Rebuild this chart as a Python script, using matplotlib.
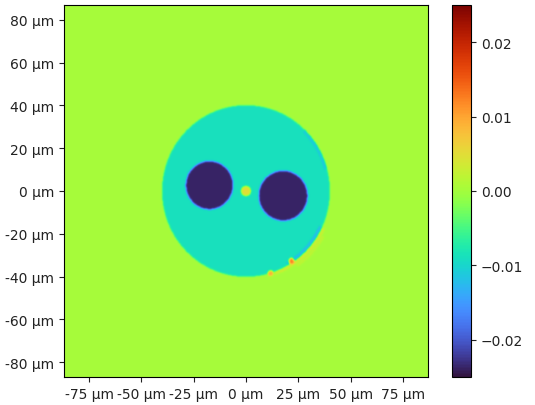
import numpy as np
import matplotlib
matplotlib.use("Agg")
import matplotlib.pyplot as plt
from matplotlib.ticker import FuncFormatter

# ---- data ----
extent_um = 87.0
background_value = 0.0003
cladding_center = (0.0, 0.0)
cladding_radius = 40.2
cladding_value = -0.0088
hole_x = [-17.5, 17.8]
hole_y = [2.7, -2.2]
hole_r = [11.3, 11.7]
hole_value = -0.0238
core_center = (0.0, 0.0)
core_radius = 2.3
core_value = 0.0048
# edge artefacts: inner radius, outer radius, start angle, end angle (deg), value
arc_r0 = [38.6, 40.3, 42.0, 38.8]
arc_r1 = [40.2, 41.6, 43.2, 40.2]
arc_a0 = [-60, -70, -55, 15]
arc_a1 = [-25, -25, -30, 45]
arc_value = [-0.0125, 0.0035, 0.0022, -0.0115]
spot_x = [21.8, 11.8]
spot_y = [-32.9, -38.6]
spot_r = [1.4, 1.3]
spot_value = [0.012, 0.009]
vmin, vmax = -0.025, 0.025
xticks = [-75, -50, -25, 0, 25, 50, 75]
yticks = [-80, -60, -40, -20, 0, 20, 40, 60, 80]
cbar_ticks = [-0.02, -0.01, 0.0, 0.01, 0.02]

# ---- build map ----
n = 500
ax_coords = np.linspace(-extent_um, extent_um, n)
X, Y = np.meshgrid(ax_coords, ax_coords)
R = np.hypot(X, Y)
A = np.degrees(np.arctan2(Y, X))
Z = np.full_like(X, background_value)
Z[(X - cladding_center[0])**2 + (Y - cladding_center[1])**2 < cladding_radius**2] = cladding_value
for r0, r1, a0, a1, v in zip(arc_r0, arc_r1, arc_a0, arc_a1, arc_value):
    Z[(R >= r0) & (R < r1) & (A >= a0) & (A <= a1)] = v
for hx, hy, hr in zip(hole_x, hole_y, hole_r):
    Z[(X - hx)**2 + (Y - hy)**2 < hr**2] = hole_value
Z[(X - core_center[0])**2 + (Y - core_center[1])**2 < core_radius**2] = core_value
for sx, sy, sr, sv in zip(spot_x, spot_y, spot_r, spot_value):
    Z[(X - sx)**2 + (Y - sy)**2 < sr**2] = sv

# soften edges
sig = 1.2  # pixels
k = np.arange(-4, 5)
kern = np.exp(-k**2 / (2 * sig**2)); kern /= kern.sum()
Zp = np.pad(Z, 4, mode="edge")
Zp = np.apply_along_axis(lambda r: np.convolve(r, kern, mode="same"), 1, Zp)
Zp = np.apply_along_axis(lambda c: np.convolve(c, kern, mode="same"), 0, Zp)
Z = Zp[4:-4, 4:-4]

fig = plt.figure(figsize=(5.35, 4.06), dpi=100)
ax = fig.add_axes([64/535, 28/406, 364/535, 372/406])
im = ax.imshow(Z, cmap="turbo", vmin=vmin, vmax=vmax, origin="lower",
               extent=[-extent_um, extent_um, -extent_um, extent_um],
               aspect="auto", interpolation="bilinear")
ax.set_xticks(xticks)
ax.set_yticks(yticks)
fmt = FuncFormatter(lambda v, p: f"{int(v)} µm")
ax.xaxis.set_major_formatter(fmt)
ax.yaxis.set_major_formatter(fmt)
ax.tick_params(labelsize=10, colors="#222222")

cax = fig.add_axes([452/535, 28/406, 19/535, 372/406])
cb = fig.colorbar(im, cax=cax, ticks=cbar_ticks)
cb.ax.tick_params(labelsize=10, colors="#222222")

fig.savefig("out.png", dpi=100)
